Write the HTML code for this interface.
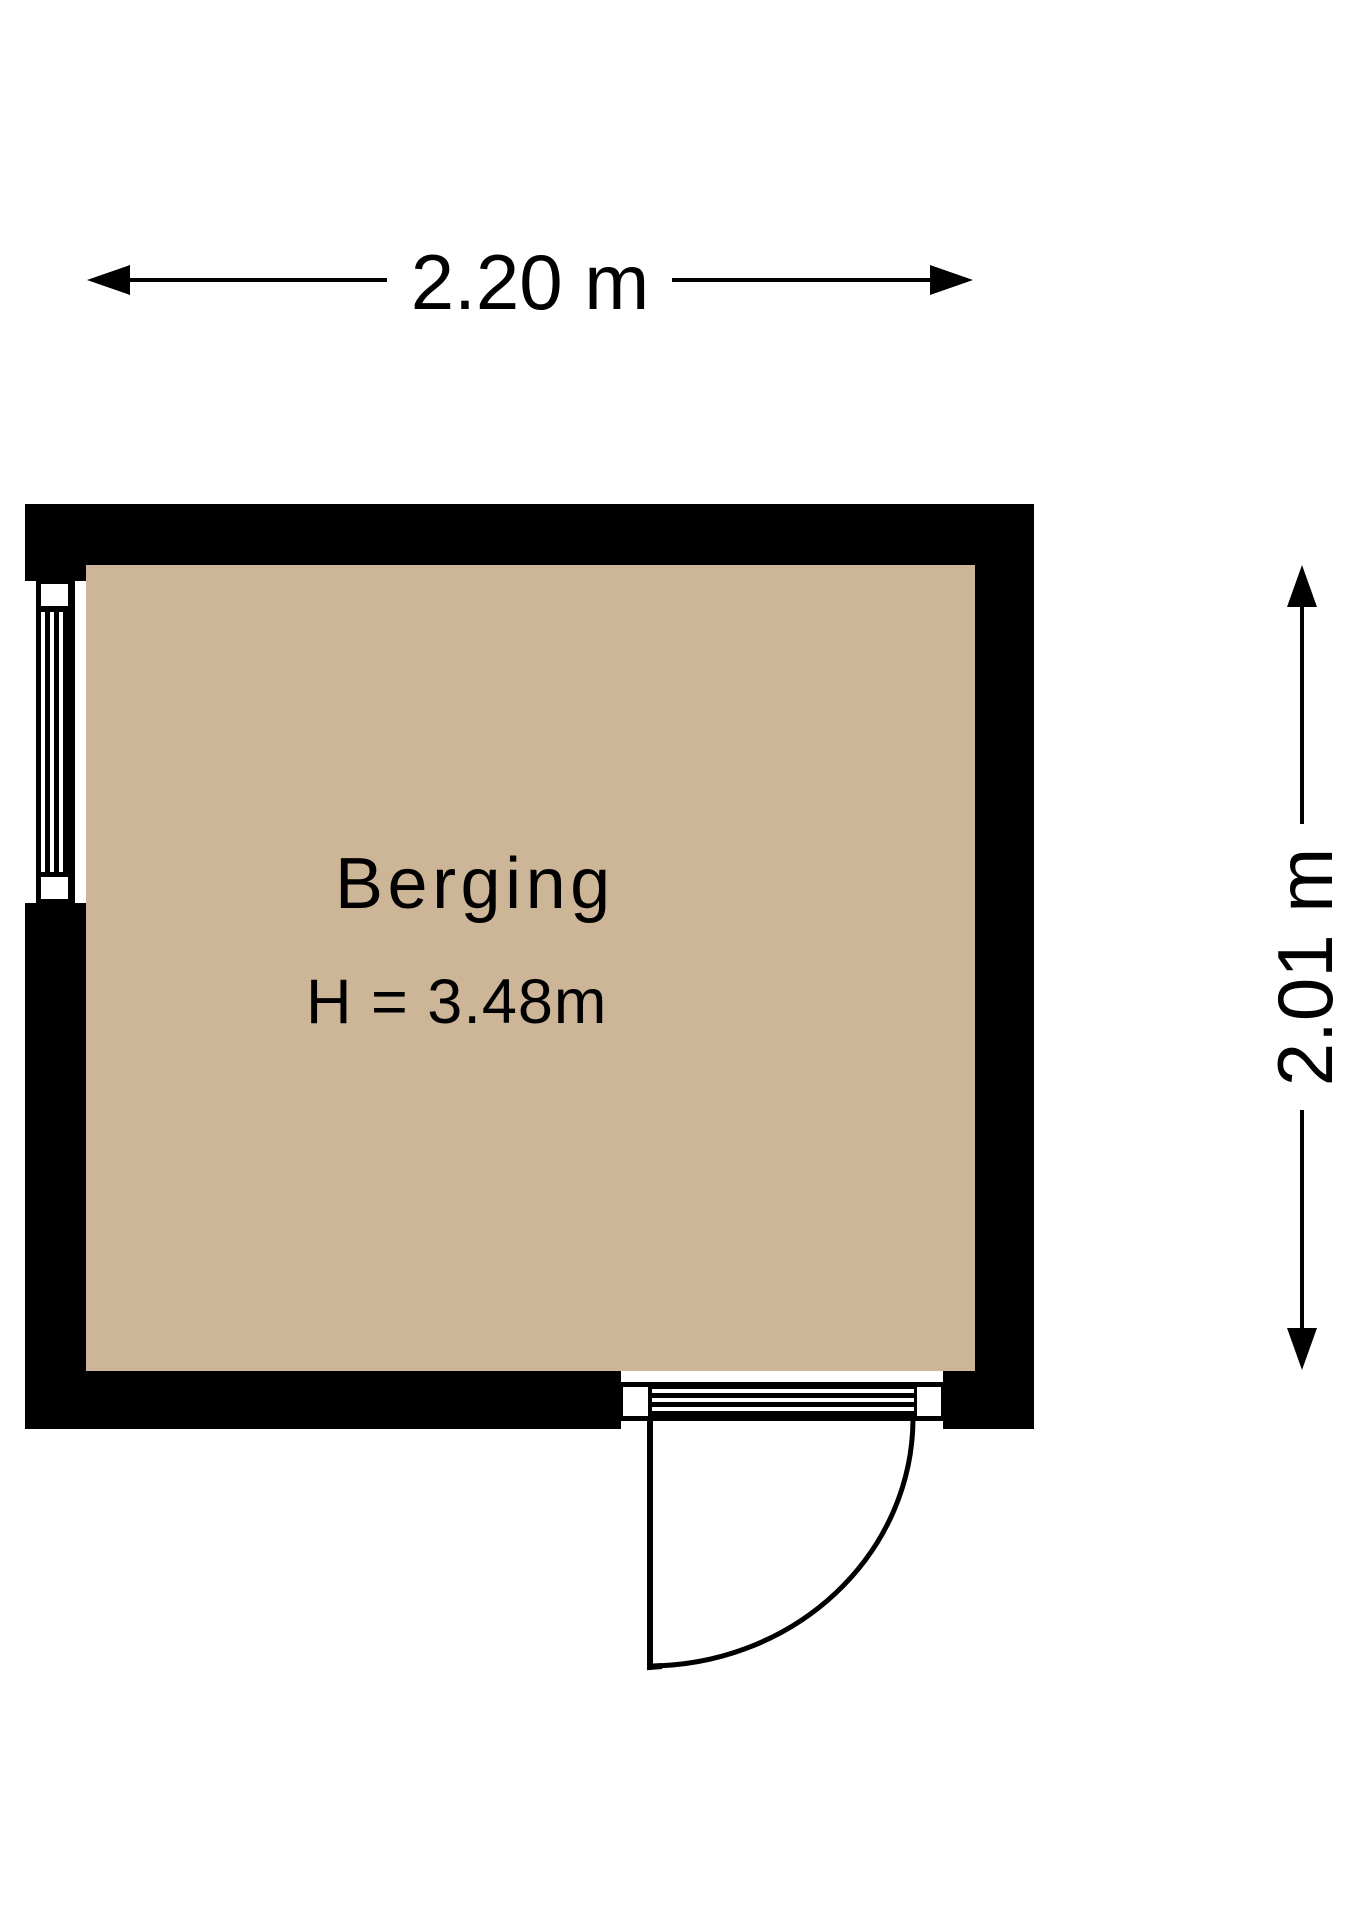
<!DOCTYPE html>
<html><head><meta charset="utf-8"><style>
html,body{margin:0;padding:0;background:#fff;}
svg{display:block;}
text{font-family:"Liberation Sans",sans-serif;fill:#000;}
</style></head><body>
<svg width="1358" height="1920" viewBox="0 0 1358 1920" xmlns="http://www.w3.org/2000/svg">
<rect width="1358" height="1920" fill="#fff"/>
<rect x="25" y="504" width="1009" height="925" fill="#000"/>
<rect x="86" y="565" width="889" height="806" fill="#cdb598"/>
<rect x="25" y="581" width="61" height="322" fill="#fff"/>
<rect x="36" y="581" width="39" height="322" fill="#000"/>
<rect x="41" y="584" width="27" height="22" fill="#fff"/>
<rect x="41" y="877" width="27" height="22" fill="#fff"/>
<rect x="41" y="612" width="4" height="260" fill="#fff"/>
<rect x="50" y="612" width="4" height="260" fill="#fff"/>
<rect x="59" y="612" width="4" height="260" fill="#fff"/>
<rect x="75" y="581" width="11" height="322" fill="#fff"/>
<rect x="621" y="1371" width="322" height="60" fill="#fff"/>
<rect x="621" y="1382" width="322" height="39" fill="#000"/>
<rect x="623" y="1387" width="25" height="29" fill="#fff"/>
<rect x="917" y="1387" width="24" height="29" fill="#fff"/>
<rect x="652" y="1389" width="262" height="4" fill="#fff"/>
<rect x="652" y="1398" width="262" height="4" fill="#fff"/>
<rect x="652" y="1407" width="262" height="4" fill="#fff"/>
<path d="M650 1420 L650 1667 L662 1666" fill="none" stroke="#000" stroke-width="6"/>
<path d="M650 1666 A265 248 0 0 0 913 1420" fill="none" stroke="#000" stroke-width="5"/>
<line x1="120" y1="280" x2="387" y2="280" stroke="#000" stroke-width="4"/>
<line x1="672" y1="280" x2="940" y2="280" stroke="#000" stroke-width="4"/>
<polygon points="87,280 130,265 130,295" fill="#000"/>
<polygon points="973,280 930,265 930,295" fill="#000"/>
<text x="530" y="309" font-size="78" text-anchor="middle">2.20 m</text>
<line x1="1302" y1="600" x2="1302" y2="824" stroke="#000" stroke-width="4"/>
<line x1="1302" y1="1110" x2="1302" y2="1335" stroke="#000" stroke-width="4"/>
<polygon points="1302,565 1287,607 1317,607" fill="#000"/>
<polygon points="1302,1370 1287,1328 1317,1328" fill="#000"/>
<text x="0" y="0" font-size="78" text-anchor="middle" transform="translate(1332,967) rotate(-90)">2.01 m</text>
<text x="335" y="908" font-size="72" letter-spacing="4.5">Berging</text>
<text x="306" y="1023" font-size="63" letter-spacing="1">H = 3.48m</text>
</svg>
</body></html>
